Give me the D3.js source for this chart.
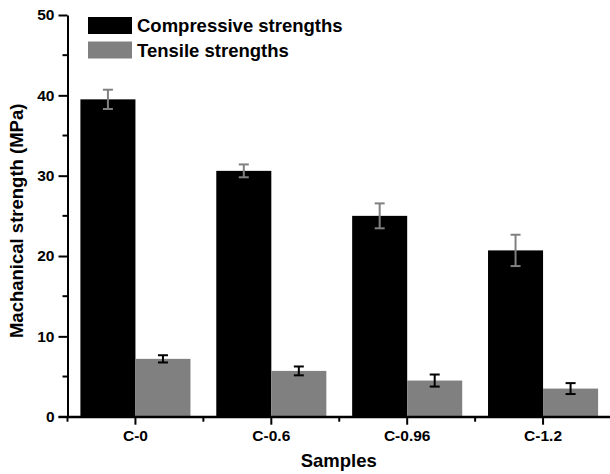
<!DOCTYPE html>
<html>
<head>
<meta charset="utf-8">
<script src="https://cdn.jsdelivr.net/npm/d3@7"></script>
<style>
  body { margin: 0; background: #fff; }
  text { font-family: "Liberation Sans", Arial, sans-serif; font-weight: bold; }
</style>
</head>
<body>
<div id="chart"></div>
<script>
const samples = ['C-0', 'C-0.6', 'C-0.96', 'C-1.2'];
const series = ['Compressive strengths', 'Tensile strengths'];
const compressive = [39.5, 30.6, 25.0, 20.7];
const compressiveErr = [1.2, 0.8, 1.55, 1.95];
const tensile = [7.2, 5.7, 4.5, 3.5];
const tensileErr = [0.45, 0.55, 0.75, 0.68];
const yTicks = [0, 10, 20, 30, 40, 50];
const yMinorTicks = [5, 15, 25, 35, 45];

const colors = { 'Compressive strengths': '#000000', 'Tensile strengths': '#808080' };
const errColors = { 'Compressive strengths': '#808080', 'Tensile strengths': '#000000' };

// rows built from the arrays
const rows = samples.map((s, i) => ({
  sample: s,
  bars: [
    { key: series[0], value: compressive[i], err: compressiveErr[i] },
    { key: series[1], value: tensile[i], err: tensileErr[i] }
  ]
}));

const width = 610, height = 474;
const margin = { top: 15, right: -1, bottom: 57, left: 67.5 };

const svg = d3.select('#chart')
  .append('svg')
    .attr('width', width)
    .attr('height', height);

const x0 = d3.scaleBand()
  .domain(samples)
  .range([margin.left, width - margin.right])
  .paddingInner(0.19)
  .paddingOuter(0.095);

const x1 = d3.scaleBand()
  .domain(series)
  .range([0, x0.bandwidth()]);

const y = d3.scaleLinear()
  .domain([0, 50])
  .range([height - margin.bottom - 0.3, margin.top]);

// bars
const groups = svg.selectAll('g.group')
  .data(rows)
  .enter()
  .append('g')
    .attr('class', 'group')
    .attr('transform', d => `translate(${x0(d.sample)},0)`);

groups.selectAll('rect')
  .data(d => d.bars)
  .enter()
  .append('rect')
    .attr('x', d => x1(d.key))
    .attr('y', d => y(d.value))
    .attr('width', x1.bandwidth())
    .attr('height', d => y(0) - y(d.value))
    .attr('fill', d => colors[d.key]);

// error bars
const errs = groups.selectAll('g.err')
  .data(d => d.bars)
  .enter()
  .append('g')
    .attr('class', 'err')
    .attr('stroke', d => errColors[d.key])
    .attr('stroke-width', 2);

errs.append('line')
  .attr('x1', d => x1(d.key) + x1.bandwidth() / 2)
  .attr('x2', d => x1(d.key) + x1.bandwidth() / 2)
  .attr('y1', d => y(d.value + d.err))
  .attr('y2', d => y(d.value - d.err));

[1, -1].forEach(sign => {
  errs.append('line')
    .attr('x1', d => x1(d.key) + x1.bandwidth() / 2 - 5)
    .attr('x2', d => x1(d.key) + x1.bandwidth() / 2 + 5)
    .attr('y1', d => y(d.value + sign * d.err))
    .attr('y2', d => y(d.value + sign * d.err));
});

// y axis
const yAxis = svg.append('g')
  .attr('transform', `translate(${margin.left},0)`)
  .call(d3.axisLeft(y).tickValues(yTicks).tickSize(9).tickPadding(4).tickSizeOuter(0));
yAxis.selectAll('line').attr('stroke-width', 2);
yAxis.select('.domain').attr('stroke-width', 2);
yAxis.selectAll('text').attr('font-size', 15.5).attr('fill', '#000');

yAxis.selectAll('line.minor')
  .data(yMinorTicks)
  .enter()
  .append('line')
    .attr('class', 'minor')
    .attr('x1', -5)
    .attr('x2', 0)
    .attr('y1', d => y(d))
    .attr('y2', d => y(d))
    .attr('stroke', '#000')
    .attr('stroke-width', 2);

// x axis
const xAxis = svg.append('g')
  .attr('transform', `translate(0,${y(0)})`)
  .call(d3.axisBottom(x0).tickSize(8).tickPadding(5).tickSizeOuter(0));
xAxis.select('.domain').attr('stroke-width', 2);
xAxis.selectAll('line').attr('stroke-width', 2);
xAxis.selectAll('text').attr('font-size', 15.5).attr('fill', '#000');

const boundaries = samples.map(s => x0(s) - x0.step() * x0.paddingInner() / 2);
xAxis.selectAll('line.minor')
  .data(boundaries)
  .enter()
  .append('line')
    .attr('class', 'minor')
    .attr('x1', d => d)
    .attr('x2', d => d)
    .attr('y1', 0)
    .attr('y2', 5)
    .attr('stroke', '#000')
    .attr('stroke-width', 2);

// extend x axis line left to meet the 0 tick
svg.append('line')
  .attr('x1', margin.left - 9)
  .attr('x2', width)
  .attr('y1', y(0))
  .attr('y2', y(0))
  .attr('stroke', '#000')
  .attr('stroke-width', 2);

// axis titles
svg.append('text')
  .attr('x', (margin.left + width) / 2)
  .attr('y', 467)
  .attr('text-anchor', 'middle')
  .attr('font-size', 18.5)
  .text('Samples');

svg.append('text')
  .attr('transform', `translate(23,${(y(0) + y(50)) / 2 + 5}) rotate(-90)`)
  .attr('text-anchor', 'middle')
  .attr('font-size', 18.5)
  .text('Machanical strength (MPa)');

// legend
const legend = svg.selectAll('g.legend')
  .data(series)
  .enter()
  .append('g')
    .attr('class', 'legend')
    .attr('transform', (d, i) => `translate(88,${17 + i * 24.5})`);

legend.append('rect')
  .attr('width', 44)
  .attr('height', 17)
  .attr('fill', d => colors[d]);

legend.append('text')
  .attr('x', 49)
  .attr('y', 15)
  .attr('font-size', 18.5)
  .text(d => d);
</script>
</body>
</html>
